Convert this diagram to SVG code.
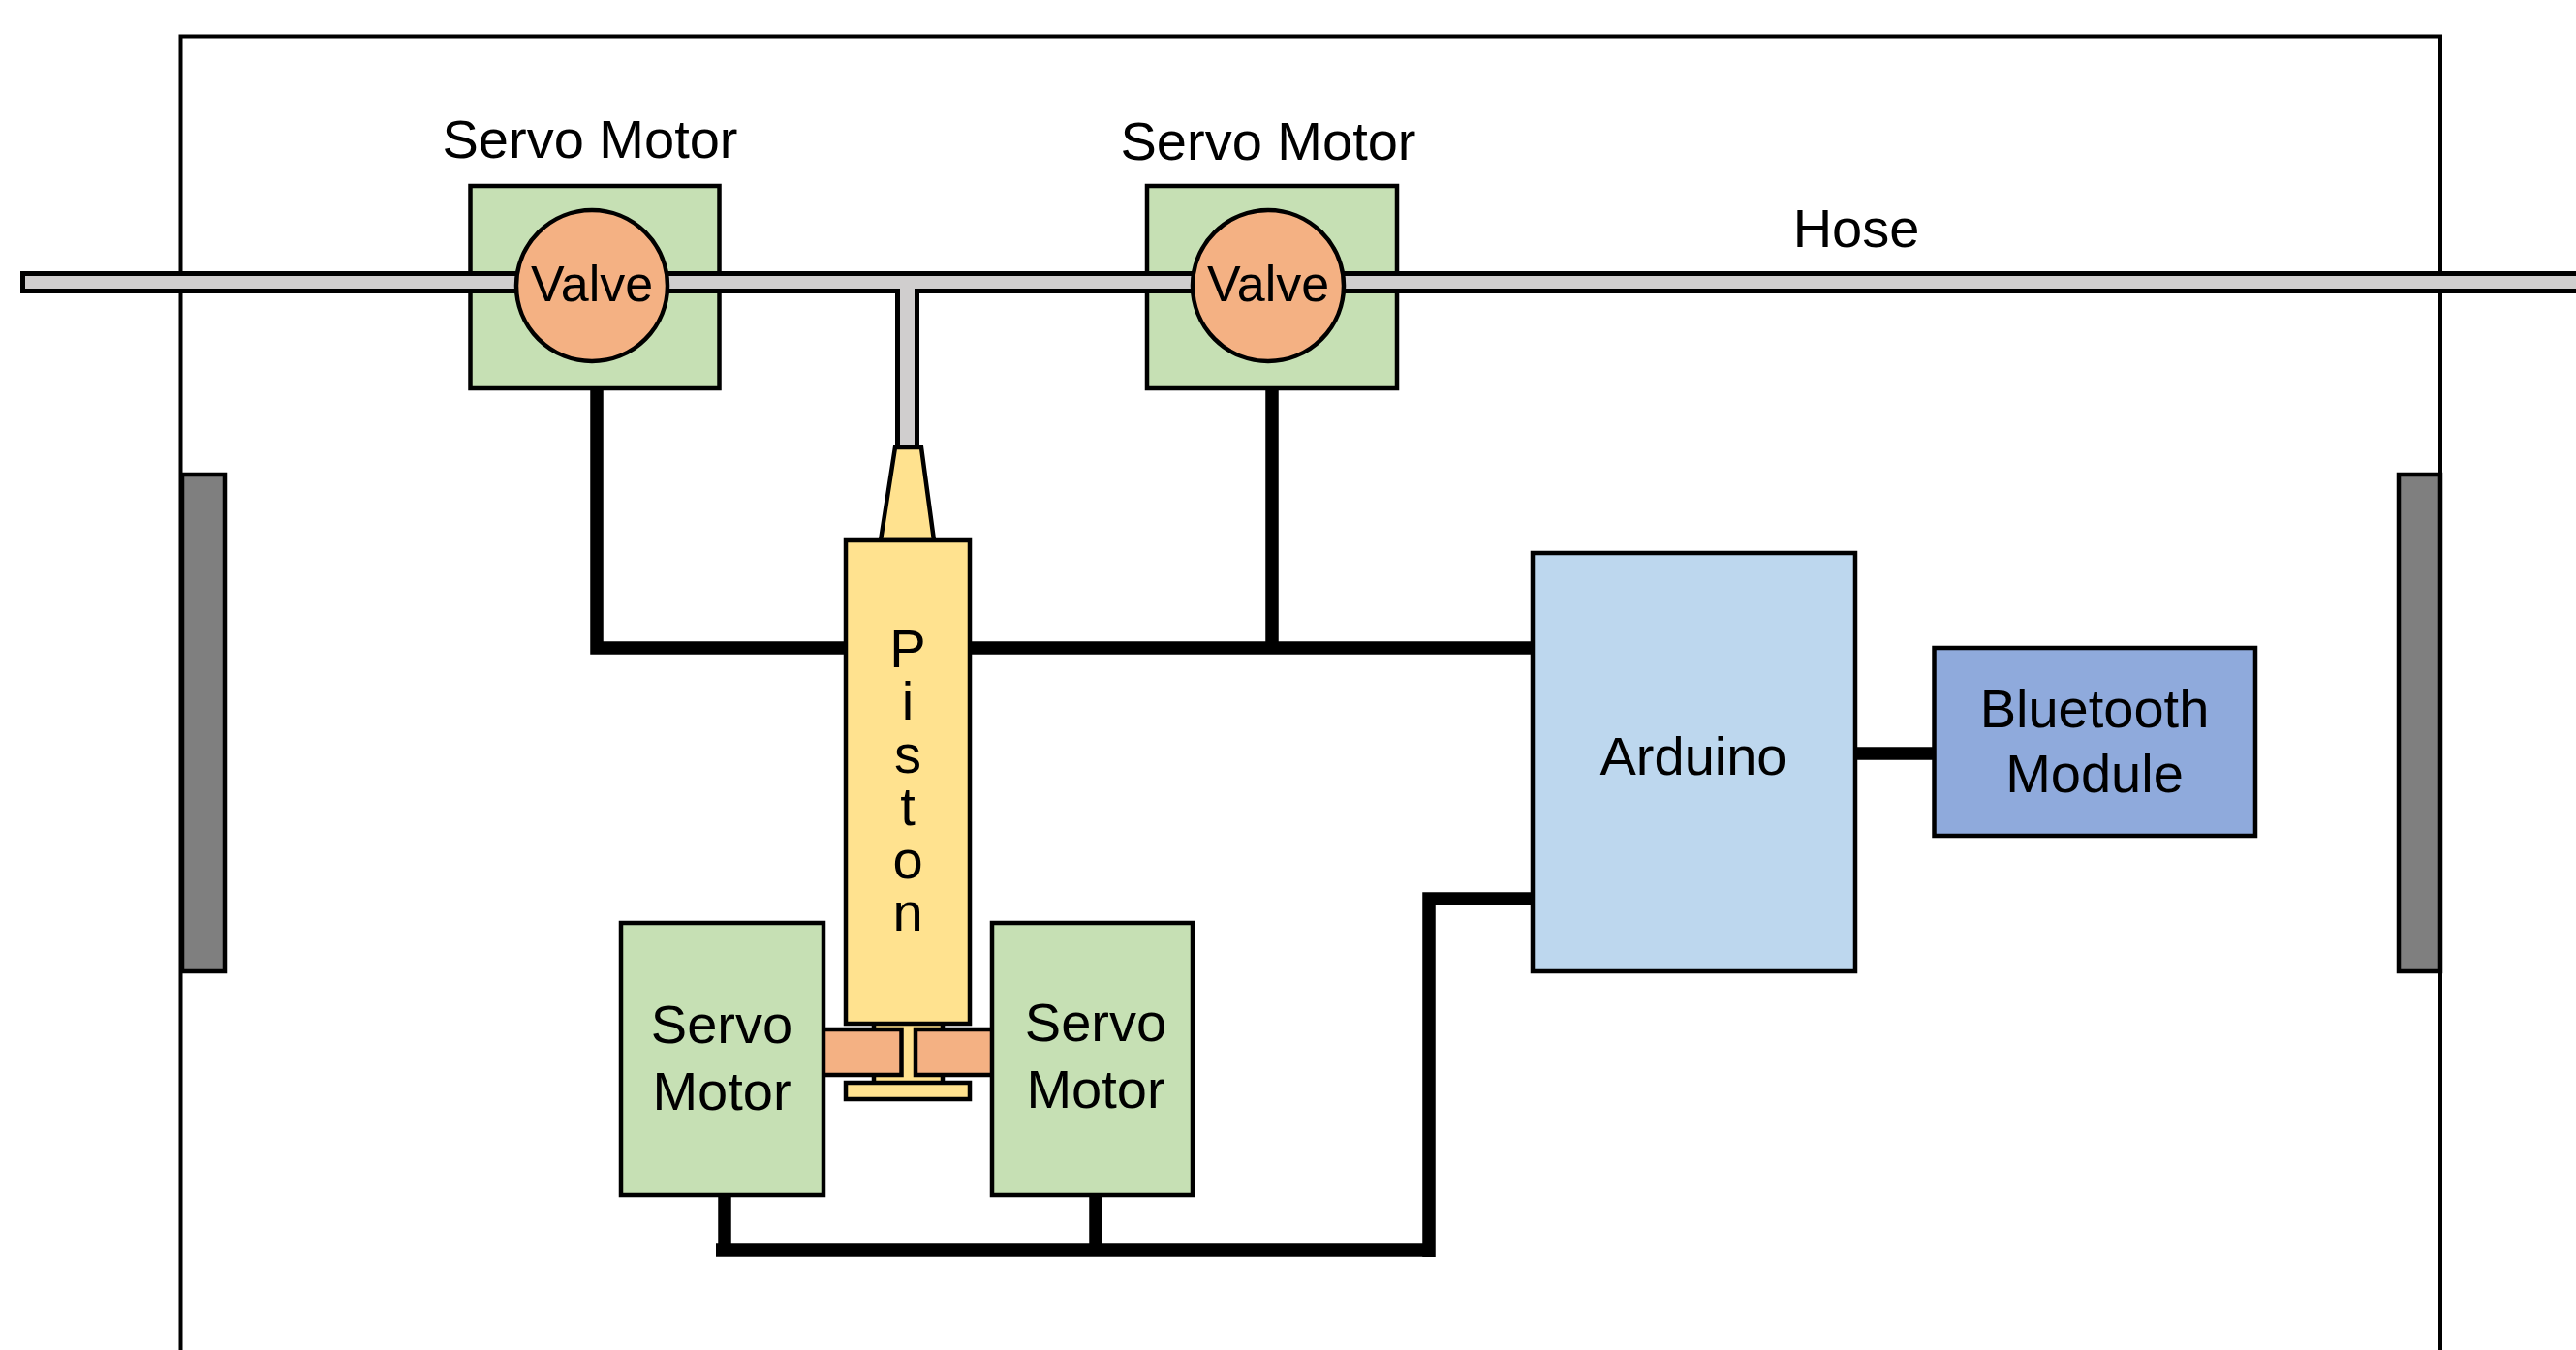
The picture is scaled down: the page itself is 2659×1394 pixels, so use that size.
<svg xmlns="http://www.w3.org/2000/svg" width="2659" height="1394" viewBox="0 0 2659 1394">
<style>
text{font-family:"Liberation Sans",Arial,sans-serif;font-size:56px;fill:#000;text-anchor:middle}
.v{font-size:52px}
.s{stroke:#000;stroke-width:4.5}
.w{fill:none;stroke:#000;stroke-width:13.5;stroke-linecap:butt;stroke-linejoin:miter}
.green{fill:#c6e0b4}.orange{fill:#f4b183}.yellow{fill:#ffe28f}.gray{fill:#7f7f7f}.hose{fill:#d0cece}
</style>
<rect width="2659" height="1394" fill="#fff"/>
<g id="enclosure"><path d="M186.500 1394V37.500H2519V1394" fill="none" stroke="#000" stroke-width="4"/></g>
<g id="side-left"><rect class="gray s" x="188" y="490" width="44" height="513"/></g>
<g id="side-right"><rect class="gray s" x="2476" y="490" width="43" height="513"/></g>
<g id="servo-top-left"><rect class="green s" x="485.500" y="192" width="257" height="209"/></g>
<g id="servo-top-right"><rect class="green s" x="1184" y="192" width="258" height="209"/></g>
<g id="hose"><path class="hose" stroke="#000" stroke-width="5" d="M23.500 282.500H2670V300.500H946.500V470H926.500V300.500H23.500Z"/></g>
<g id="connectors">
<path class="w" d="M616 403V669H872"/>
<path class="w" d="M1002 669H1582"/>
<path class="w" d="M1313 403V669"/>
<path class="w" d="M1915 778H1996"/>
<path class="w" d="M748 1236V1291"/>
<path class="w" d="M1131 1236V1291"/>
<path class="w" d="M739 1291H1481"/>
<path class="w" d="M1475 1298V928H1582"/>
</g>
<g id="piston">
<path class="yellow s" d="M924 462H951L964 558H909Z"/>
<rect class="yellow" x="902" y="1057" width="71" height="61"/>
<path fill="none" class="s" d="M902 1057V1118M973 1057V1118"/>
<rect class="yellow s" x="873" y="558" width="128" height="499"/>
<rect class="yellow s" x="873" y="1118" width="128" height="17"/>
<text><tspan x="937" y="689">P</tspan><tspan x="937" y="743">i</tspan><tspan x="937" y="798">s</tspan><tspan x="937" y="852">t</tspan><tspan x="937" y="907">o</tspan><tspan x="937" y="961">n</tspan></text>
</g>
<g id="cam-left"><rect class="orange s" x="840" y="1063" width="90.500" height="47"/></g>
<g id="cam-right"><rect class="orange s" x="945" y="1063" width="90" height="47"/></g>
<g id="servo-bottom-left"><rect class="green s" x="641" y="953" width="209" height="281"/><text x="745" y="1077">Servo</text><text x="745" y="1146">Motor</text></g>
<g id="servo-bottom-right"><rect class="green s" x="1024" y="953" width="207" height="281"/><text x="1131" y="1075">Servo</text><text x="1131" y="1144">Motor</text></g>
<g id="valve-left"><circle class="orange s" cx="611" cy="295" r="78"/><text class="v" x="611" y="311">Valve</text></g>
<g id="valve-right"><circle class="orange s" cx="1309" cy="295" r="78"/><text class="v" x="1309" y="311">Valve</text></g>
<g id="arduino"><rect x="1582" y="571" width="333" height="432" fill="#bdd7ee" class="s"/><text x="1748" y="800">Arduino</text></g>
<g id="bluetooth"><rect x="1996.500" y="669" width="331.500" height="194" fill="#8faadc" class="s"/><text x="2162" y="751">Bluetooth</text><text x="2162" y="818">Module</text></g>
<g id="labels">
<text x="609" y="163">Servo Motor</text>
<text x="1309" y="165">Servo Motor</text>
<text x="1916" y="255">Hose</text>
</g>
</svg>
